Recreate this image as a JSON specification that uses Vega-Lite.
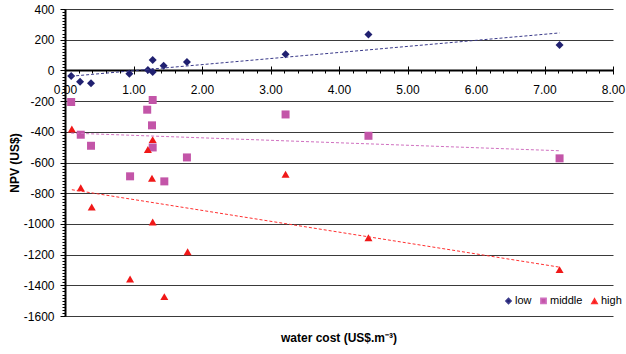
{
  "$schema": "https://vega.github.io/schema/vega-lite/v6.json",
  "width": 548,
  "height": 307,
  "autosize": {"type": "none"},
  "padding": {"left": 65, "top": 9, "right": 13, "bottom": 38},
  "background": "white",
  "config": {"font": "Liberation Sans", "view": {"stroke": null}},
  "title": {"text": "water cost (US$.m⁻³)", "orient": "bottom", "anchor": "middle", "offset": 11, "fontSize": 12, "fontWeight": "bold", "color": "black"},
  "data": {"values": [
    {"x": 0.09, "npv": -37, "level": "low"},
    {"x": 0.22, "npv": -74, "level": "low"},
    {"x": 0.38, "npv": -83, "level": "low"},
    {"x": 0.94, "npv": -22, "level": "low"},
    {"x": 1.21, "npv": 2, "level": "low"},
    {"x": 1.28, "npv": 67, "level": "low"},
    {"x": 1.28, "npv": -11, "level": "low"},
    {"x": 1.44, "npv": 31, "level": "low"},
    {"x": 1.78, "npv": 54, "level": "low"},
    {"x": 3.22, "npv": 106, "level": "low"},
    {"x": 4.43, "npv": 234, "level": "low"},
    {"x": 7.22, "npv": 165, "level": "low"},
    {"x": 0.09, "npv": -206, "level": "middle"},
    {"x": 0.23, "npv": -419, "level": "middle"},
    {"x": 0.38, "npv": -491, "level": "middle"},
    {"x": 0.95, "npv": -690, "level": "middle"},
    {"x": 1.2, "npv": -256, "level": "middle"},
    {"x": 1.28, "npv": -193, "level": "middle"},
    {"x": 1.27, "npv": -358, "level": "middle"},
    {"x": 1.28, "npv": -502, "level": "middle"},
    {"x": 1.45, "npv": -723, "level": "middle"},
    {"x": 1.78, "npv": -567, "level": "middle"},
    {"x": 3.22, "npv": -287, "level": "middle"},
    {"x": 4.43, "npv": -426, "level": "middle"},
    {"x": 7.22, "npv": -573, "level": "middle"},
    {"x": 0.1, "npv": -382, "level": "high"},
    {"x": 0.23, "npv": -764, "level": "high"},
    {"x": 0.39, "npv": -890, "level": "high"},
    {"x": 0.95, "npv": -1359, "level": "high"},
    {"x": 1.21, "npv": -515, "level": "high"},
    {"x": 1.28, "npv": -451, "level": "high"},
    {"x": 1.27, "npv": -703, "level": "high"},
    {"x": 1.28, "npv": -988, "level": "high"},
    {"x": 1.45, "npv": -1474, "level": "high"},
    {"x": 1.79, "npv": -1181, "level": "high"},
    {"x": 3.22, "npv": -677, "level": "high"},
    {"x": 4.43, "npv": -1090, "level": "high"},
    {"x": 7.22, "npv": -1298, "level": "high"}
  ]},
  "resolve": {"axis": {"x": "independent", "y": "independent"}},
  "layer": [
    {
      "mark": {"type": "point", "filled": true, "size": 64, "opacity": 1},
      "encoding": {
        "x": {"field": "x", "type": "quantitative", "scale": {"domain": [0, 8], "nice": false, "zero": false},
          "axis": {"values": [0, 1, 2, 3, 4, 5, 6, 7, 8], "format": ".2f", "offset": -246, "title": null, "labelFontSize": 12, "labelColor": "black", "labelPadding": 10, "tickSize": 4, "tickColor": "black", "domainColor": "black", "domainWidth": 2, "grid": false, "labelFlush": false, "labelOverlap": false}},
        "y": {"field": "npv", "type": "quantitative", "scale": {"domain": [-1600, 400], "nice": false},
          "axis": {"values": [-1600, -1400, -1200, -1000, -800, -600, -400, -200, 0, 200, 400], "title": "NPV (US$)", "titleFontWeight": "bold", "titleFontSize": 12, "titleColor": "black", "titlePadding": 2, "labelFontSize": 12, "labelColor": "black", "labelPadding": 6, "tickSize": 5, "tickColor": "black", "domainColor": "black", "domainWidth": 2, "grid": true, "gridColor": "#3a3a3a", "gridWidth": 1, "labelExpr": "'' + datum.value"}},
        "color": {"field": "level", "type": "nominal", "scale": {"domain": ["low", "middle", "high"], "range": ["#202070", "#C355A8", "#F01818"]},
          "legend": {"orient": "none", "legendX": 438, "legendY": 286, "direction": "horizontal", "title": null, "symbolSize": 28, "labelFontSize": 11, "labelColor": "black", "labelOffset": 1, "columnPadding": 5}},
        "shape": {"field": "level", "type": "nominal", "scale": {"domain": ["low", "middle", "high"], "range": ["diamond", "square", "triangle-up"]},
          "legend": {"orient": "none", "legendX": 438, "legendY": 286, "direction": "horizontal", "title": null, "symbolSize": 28, "labelFontSize": 11, "labelColor": "black", "labelOffset": 1, "columnPadding": 5}}
      }
    },
    {
      "transform": [{"regression": "npv", "on": "x", "groupby": ["level"], "method": "linear"}],
      "mark": {"type": "line", "strokeDash": [3, 2], "strokeWidth": 1},
      "encoding": {
        "x": {"field": "x", "type": "quantitative", "axis": null},
        "y": {"field": "npv", "type": "quantitative", "axis": null},
        "stroke": {"field": "level", "type": "nominal", "scale": {"domain": ["low", "middle", "high"], "range": ["#3a3a8a", "#D070C0", "#FF3030"]}, "legend": null}
      }
    },
    {
      "mark": {"type": "point", "opacity": 0},
      "encoding": {
        "x": {"field": "x", "type": "quantitative",
          "axis": {"orient": "bottom", "values": [0, 0.2, 0.4, 0.6, 0.8, 1, 1.2, 1.4, 1.6, 1.8, 2, 2.2, 2.4, 2.6, 2.8, 3, 3.2, 3.4, 3.6, 3.8, 4, 4.2, 4.4, 4.6, 4.8, 5, 5.2, 5.4, 5.6, 5.8, 6, 6.2, 6.4, 6.6, 6.8, 7, 7.2, 7.4, 7.6, 7.8, 8], "offset": -246, "labels": false, "domain": false, "grid": false, "tickSize": 3, "tickColor": "black", "title": null}},
        "y": {"field": "npv", "type": "quantitative",
          "axis": {"orient": "left", "values": [-1600, -1580, -1560, -1540, -1520, -1500, -1480, -1460, -1440, -1420, -1400, -1380, -1360, -1340, -1320, -1300, -1280, -1260, -1240, -1220, -1200, -1180, -1160, -1140, -1120, -1100, -1080, -1060, -1040, -1020, -1000, -980, -960, -940, -920, -900, -880, -860, -840, -820, -800, -780, -760, -740, -720, -700, -680, -660, -640, -620, -600, -580, -560, -540, -520, -500, -480, -460, -440, -420, -400, -380, -360, -340, -320, -300, -280, -260, -240, -220, -200, -180, -160, -140, -120, -100, -80, -60, -40, -20, 0, 20, 40, 60, 80, 100, 120, 140, 160, 180, 200, 220, 240, 260, 280, 300, 320, 340, 360, 380, 400], "labels": false, "domain": false, "grid": false, "tickSize": 3, "tickColor": "black", "title": null}}
      }
    },
    {
      "mark": {"type": "point", "opacity": 0},
      "encoding": {
        "x": {"field": "x", "type": "quantitative",
          "axis": {"orient": "top", "values": [0, 1, 2, 3, 4, 5, 6, 7, 8], "offset": -61, "labels": false, "domain": false, "grid": false, "tickSize": 4, "tickColor": "black", "title": null}},
        "y": {"field": "npv", "type": "quantitative", "axis": null}
      }
    }
  ]
}
